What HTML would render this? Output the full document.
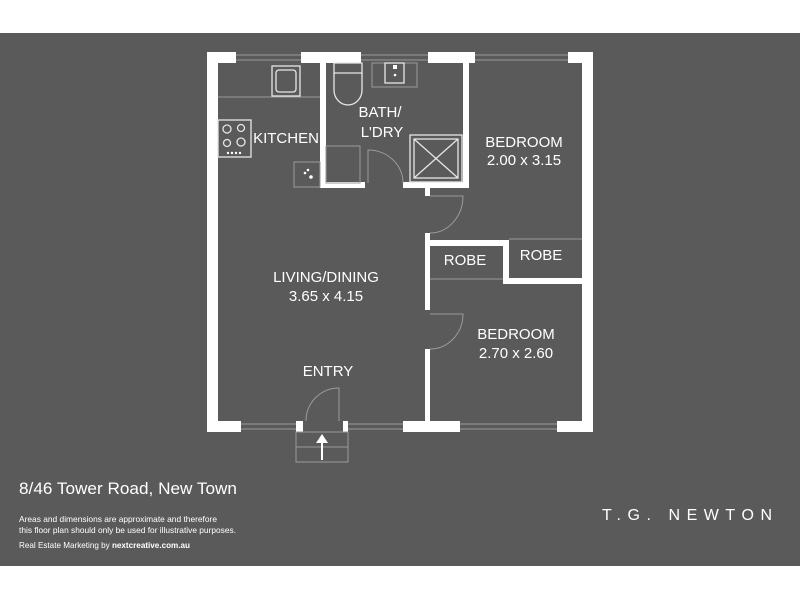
<!DOCTYPE html>
<html><head><style>
html,body{margin:0;padding:0;background:#fff;}
svg{display:block;}
text{font-family:"Liberation Sans",sans-serif;fill:#fff;}
</style></head><body>
<svg width="800" height="600" viewBox="0 0 800 600" xmlns="http://www.w3.org/2000/svg">
<rect x="0" y="0" width="800" height="600" fill="#fff"/>
<rect x="0" y="33" width="800" height="533" fill="#5a5a5a"/>
<g fill="#fff">
<rect x="207" y="52" width="11" height="380"/>
<rect x="582" y="52" width="11" height="380"/>
<rect x="207" y="52" width="29" height="11"/>
<rect x="301" y="52" width="60" height="11"/>
<rect x="428" y="52" width="47" height="11"/>
<rect x="568" y="52" width="25" height="11"/>
<rect x="207" y="421" width="34" height="11"/>
<rect x="296" y="421" width="7" height="11"/>
<rect x="343" y="421" width="5" height="11"/>
<rect x="403" y="421" width="57" height="11"/>
<rect x="557" y="421" width="36" height="11"/>
<rect x="320" y="63" width="6" height="125"/>
<rect x="463" y="63" width="6" height="125"/>
<rect x="320" y="182" width="45" height="6"/>
<rect x="403" y="182" width="66" height="6"/>
<rect x="425" y="188" width="5" height="8"/>
<rect x="425" y="233" width="5" height="77"/>
<rect x="425" y="349" width="5" height="76"/>
<rect x="430" y="240" width="79" height="6"/>
<rect x="503" y="240" width="6" height="44"/>
<rect x="503" y="278" width="79" height="6"/>
</g>
<g fill="none" stroke="#9a9a9a" stroke-width="1">
<line x1="236" y1="55" x2="301" y2="55"/><line x1="236" y1="60" x2="301" y2="60"/>
<line x1="361" y1="55" x2="428" y2="55"/><line x1="361" y1="60" x2="428" y2="60"/>
<line x1="475" y1="55" x2="568" y2="55"/><line x1="475" y1="60" x2="568" y2="60"/>
<line x1="241" y1="424" x2="296" y2="424"/><line x1="241" y1="429" x2="296" y2="429"/>
<line x1="348" y1="424" x2="403" y2="424"/><line x1="348" y1="429" x2="403" y2="429"/>
<line x1="460" y1="424" x2="557" y2="424"/><line x1="460" y1="429" x2="557" y2="429"/>
<line x1="218" y1="97" x2="320" y2="97"/>
<rect x="294" y="162" width="26" height="25"/>
<path d="M368 183 V150 A35 33 0 0 1 403 183"/>
<path d="M430 196 H463 A33 37 0 0 1 430 233"/>
<path d="M430 314 H463 A33 35 0 0 1 430 349"/>
<path d="M339 421 V388 A33 33 0 0 0 306 421"/>
<rect x="326" y="146" width="34" height="37"/>
<rect x="372" y="63" width="45" height="24"/>
<line x1="430" y1="279" x2="503" y2="279"/>
<line x1="509" y1="239" x2="582" y2="239"/>
<rect x="296" y="432" width="52" height="30"/>
<line x1="296" y1="447" x2="348" y2="447"/>
</g>
<g fill="none" stroke="#e6e6e6" stroke-width="1.3">
<rect x="272" y="66" width="28" height="30"/>
<rect x="276" y="70" width="20" height="22" rx="3"/>
<rect x="218" y="120" width="33" height="37"/>
<circle cx="227" cy="129" r="4"/><circle cx="241" cy="128" r="3.5"/>
<circle cx="227" cy="143" r="3.5"/><circle cx="241" cy="142" r="4"/>
<path d="M334 63 H362 V73 H334 Z"/>
<path d="M334 73 V90 A14 15 0 0 0 362 90 V73"/>
<rect x="385" y="63" width="19" height="20"/>
<rect x="410" y="135" width="52" height="47"/>
<rect x="414" y="139" width="44" height="39"/>
<line x1="414" y1="139" x2="458" y2="178"/><line x1="458" y1="139" x2="414" y2="178"/>
</g>
<g fill="#fff">
<circle cx="228" cy="153" r="1.2"/><circle cx="232" cy="153" r="1.2"/><circle cx="236" cy="153" r="1.2"/><circle cx="240" cy="153" r="1.2"/>
<circle cx="305" cy="173" r="1.3"/><circle cx="308" cy="170" r="1.3"/><circle cx="311" cy="177" r="1.8"/>
<rect x="393" y="65" width="4" height="4"/><circle cx="395" cy="75" r="1.3"/>
<rect x="321" y="440" width="2" height="20"/>
<path d="M316 443 L322 434 L328 443 Z"/>
</g>
<g font-size="15" text-anchor="middle">
<text x="286" y="143">KITCHEN</text>
<text x="380" y="117">BATH/</text>
<text x="382" y="137">L'DRY</text>
<text x="524" y="147">BEDROOM</text>
<text x="524" y="165">2.00 x 3.15</text>
<text x="326" y="282">LIVING/DINING</text>
<text x="326" y="301">3.65 x 4.15</text>
<text x="465" y="265">ROBE</text>
<text x="541" y="260">ROBE</text>
<text x="516" y="339">BEDROOM</text>
<text x="516" y="358">2.70 x 2.60</text>
<text x="328" y="376">ENTRY</text>
</g>
<text x="19" y="494" font-size="17" textLength="218" lengthAdjust="spacingAndGlyphs">8/46 Tower Road, New Town</text>
<text x="19" y="522" font-size="8.5" textLength="198" lengthAdjust="spacingAndGlyphs">Areas and dimensions are approximate and therefore</text>
<text x="19" y="533" font-size="8.5" textLength="217" lengthAdjust="spacingAndGlyphs">this floor plan should only be used for illustrative purposes.</text>
<text x="19" y="548" font-size="8.5" textLength="171" lengthAdjust="spacingAndGlyphs">Real Estate Marketing by <tspan font-weight="bold">nextcreative.com.au</tspan></text>
<text x="602" y="520" font-size="16" textLength="170" lengthAdjust="spacing">T.G. NEWTON</text>
</svg>
</body></html>
